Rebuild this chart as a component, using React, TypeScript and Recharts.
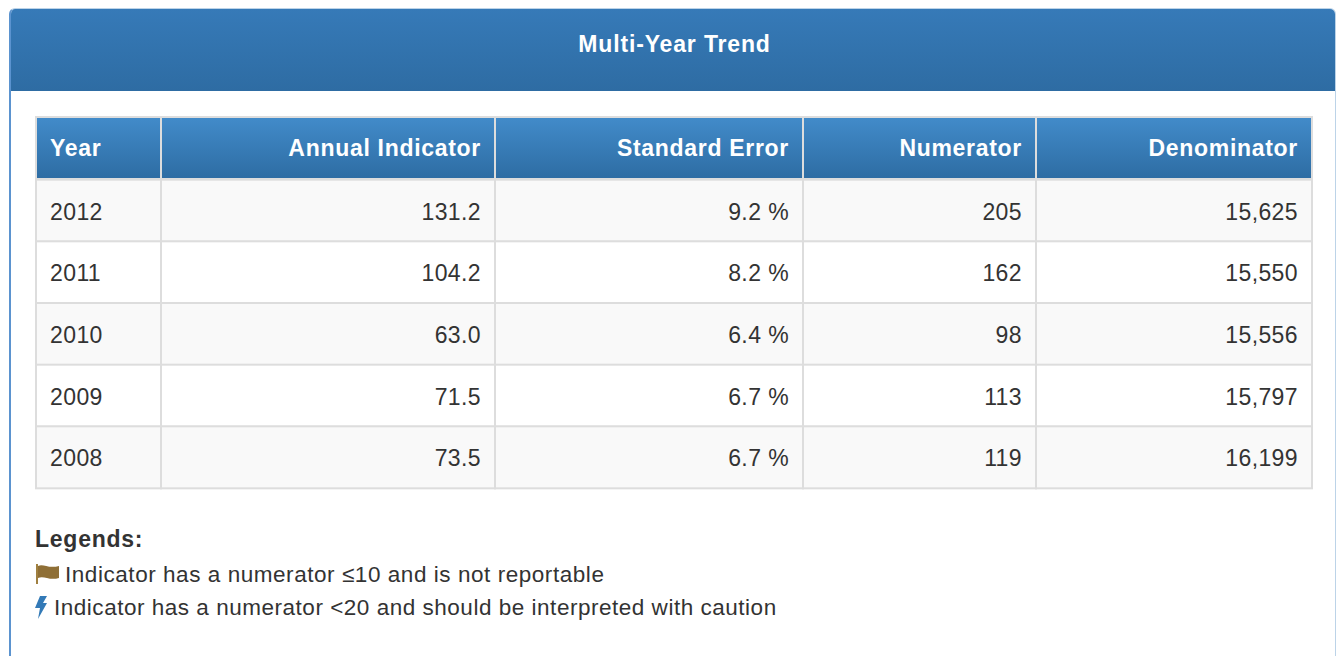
import { Bar, BarChart, XAxis, YAxis } from "recharts";

const FONT = '"Liberation Sans", Arial, sans-serif';

const years = ["2012", "2011", "2010", "2009", "2008"];
const indicators = ["131.2", "104.2", "63.0", "71.5", "73.5"];
const standardErrors = ["9.2 %", "8.2 %", "6.4 %", "6.7 %", "6.7 %"];
const numerators = ["205", "162", "98", "113", "119"];
const denominators = ["15,625", "15,550", "15,556", "15,797", "16,199"];
const headers = ["Year", "Annual Indicator", "Standard Error", "Numerator", "Denominator"];
const columnKeys = ["year", "indicator", "stdError", "numerator", "denominator"];
const columnWidths = [125, 334, 308, 233, 276];

const rows = [
  Object.fromEntries(columnKeys.map((k, i) => [k, headers[i]])),
  ...years.map((year, i) => ({
    year,
    indicator: indicators[i],
    stdError: standardErrors[i],
    numerator: numerators[i],
    denominator: denominators[i],
  })),
];

const makeCell = (col: number) => (props: any) => {
  const { x, y, width, height, index } = props;
  const isHeader = index === 0;
  const key = columnKeys[col];
  const label = rows[index][key];
  const textX = col === 0 ? x + 14 : x + width - 14;
  const anchor = col === 0 ? "start" : "end";
  const fill = isHeader ? "url(#tableHead)" : index % 2 === 1 ? "#f9f9f9" : "#ffffff";
  // header row sticks up one pixel above the band, and has a heavier rule under it
  const top = isHeader ? y - 1 : y;
  const cellHeight = isHeader ? height + 1 : height;

  return (
    <g>
      <rect x={x} y={top} width={width} height={cellHeight} fill={fill} stroke="#dddddd" strokeWidth={2} />
      {isHeader && <rect x={x - 1} y={y + height - 2} width={width + 2} height={4} fill="#dddddd" />}
      <text
        x={textX}
        y={y + height / 2 + (isHeader ? 7 : 9)}
        textAnchor={anchor}
        fill={isHeader ? "#ffffff" : "#333333"}
        fontFamily={FONT}
        fontSize={23}
        fontWeight={isHeader ? 700 : 400}
        letterSpacing={isHeader ? 0.7 : 0.4}
      >
        {label}
      </text>
    </g>
  );
};

const FlagIcon = () => (
  <svg width="25" height="20" viewBox="0 0 25 20" style={{ position: "absolute", left: 35, top: 564 }}>
    <rect x="1" y="0" width="2" height="20" fill="#a08040" />
    <path d="M3 2 C8 -1 13 5 24 2 L24 14 C14 17 9 11 3 14 Z" fill="#8f6f36" />
  </svg>
);

const BoltIcon = () => (
  <svg width="13" height="24" viewBox="0 0 13 24" style={{ position: "absolute", left: 35, top: 596 }}>
    <path d="M5 0 L12 0 L8 7 L12 7 L3 23 L5 12 L0 12 Z" fill="#337ab7" />
  </svg>
);

export default function App() {
  return (
    <div
      style={{
        position: "fixed",
        left: 0,
        top: 0,
        width: 1338,
        height: 656,
        overflow: "hidden",
        background: "#ffffff",
        fontFamily: FONT,
      }}
    >
      <div
        style={{
          position: "absolute",
          left: 9,
          top: 8,
          width: 1327,
          height: 700,
          boxSizing: "border-box",
          border: "1px solid #bcd3e8",
          borderLeft: "2px solid #5b93cf",
          borderRadius: 6,
          overflow: "hidden",
        }}
      >
        <div
          style={{
            height: 82,
            background: "linear-gradient(#367ab8, #2e6ca3)",
            color: "#ffffff",
            fontWeight: 700,
            fontSize: 23,
            letterSpacing: 0.85,
            textAlign: "center",
            lineHeight: "71px",
            paddingLeft: 3,
          }}
        >
          Multi-Year Trend
        </div>
      </div>

      <div style={{ position: "absolute", left: 0, top: 0 }}>
        <BarChart
          width={1338}
          height={656}
          data={rows}
          layout="vertical"
          barCategoryGap={0}
          margin={{ top: 118, right: 26, bottom: 168, left: 36 }}
        >
          <defs>
            <linearGradient id="tableHead" x1="0" y1="0" x2="0" y2="1">
              <stop offset="0" stopColor="#428bca" />
              <stop offset="1" stopColor="#2d6ca2" />
            </linearGradient>
          </defs>
          <XAxis type="number" hide domain={[0, 1276]} />
          <YAxis type="category" dataKey="year" hide />
          {columnKeys.map((key, col) => (
            <Bar
              key={key}
              dataKey={() => columnWidths[col]}
              stackId="table"
              shape={makeCell(col)}
              isAnimationActive={false}
            />
          ))}
        </BarChart>
      </div>

      <div
        style={{
          position: "absolute",
          left: 35,
          top: 526,
          fontSize: 23,
          fontWeight: 700,
          letterSpacing: 0.75,
          color: "#333333",
        }}
      >
        Legends:
      </div>
      <FlagIcon />
      <div style={{ position: "absolute", left: 65, top: 562, fontSize: 22.5, letterSpacing: 0.55, color: "#333333", whiteSpace: "nowrap" }}>
        Indicator has a numerator ≤10 and is not reportable
      </div>
      <BoltIcon />
      <div style={{ position: "absolute", left: 54, top: 595, fontSize: 22.5, letterSpacing: 0.52, color: "#333333", whiteSpace: "nowrap" }}>
        Indicator has a numerator &lt;20 and should be interpreted with caution
      </div>
    </div>
  );
}
